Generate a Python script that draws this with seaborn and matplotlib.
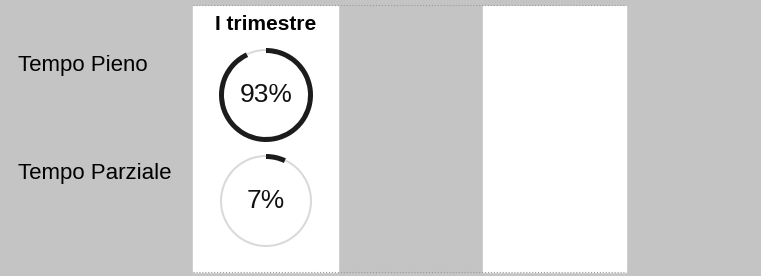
import matplotlib
matplotlib.use('Agg')
import matplotlib.pyplot as plt
import seaborn as sns

# Data
categories = ['Tempo Pieno', 'Tempo Parziale']
shares = [93, 7]
period = 'I trimestre'

sns.set_theme(style='white')
plt.rcParams['font.family'] = ['Liberation Sans', 'DejaVu Sans']

W, H = 761, 276
bg = '#c4c4c4'
dark = '#1c1c1c'
light = '#d9d9d9'

fig = plt.figure(figsize=(W / 100, H / 100), dpi=100, facecolor=bg)
ax = fig.add_axes([0, 0, 1, 1])
ax.set_facecolor(bg)

# white columns (pixel coords, y from bottom)
ax.axvspan(193, 338, ymin=4 / H, ymax=270 / H, color='white', zorder=0)
ax.axvspan(483, 626, ymin=4 / H, ymax=270 / H, color='white', zorder=0)
ax.hlines([H - 5, 4], 193, 626, colors='#999999', linestyles=':', linewidth=0.8)

# title of the column
ax.text(266, H - 25, period, ha='center', va='center', fontsize=15,
        fontweight='bold', color='black')

# one donut per category
row_y = [95, 201]
label_y = [65, 173]
for cat, share, ry, ly in zip(categories, shares, row_y, label_y):
    ax.text(18, H - ly, cat, ha='left', va='center', fontsize=16, color='black')
    wedges, _ = ax.pie([share, 100 - share], colors=[dark, light], startangle=90,
                       counterclock=False, center=(266, H - ry), radius=47,
                       wedgeprops=dict(width=5, edgecolor='none'))
    # remaining share drawn as a thinner, faint ring
    wedges[1].set_radius(46)
    wedges[1].set_width(2)
    ax.text(266, H - ry, f'{share}%', ha='center', va='center', fontsize=19,
            color='#111111')

ax.set_xlim(0, W)
ax.set_ylim(0, H)
ax.set_aspect('equal')
ax.axis('off')

fig.savefig('out.png', dpi=100, facecolor=bg)
